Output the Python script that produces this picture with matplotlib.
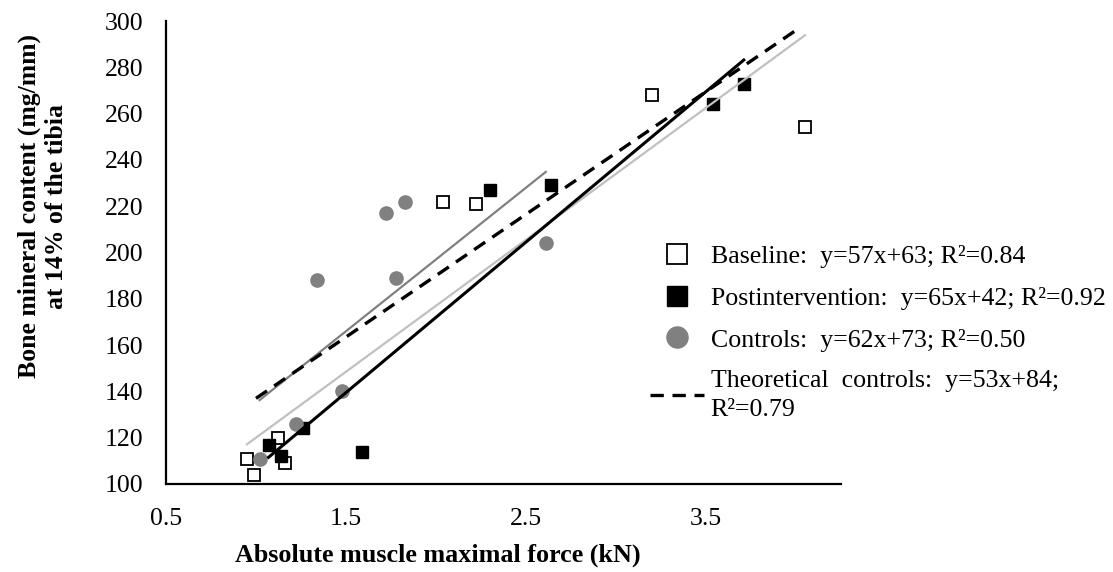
import numpy as np
import matplotlib
matplotlib.use("Agg")
import matplotlib.pyplot as plt

plt.rcParams["font.family"] = ["Liberation Serif", "DejaVu Serif"]

# Data
baseline_x = [0.95, 0.99, 1.12, 1.16, 2.04, 2.22, 3.20, 4.05]
baseline_y = [111, 104, 120, 109, 222, 221, 268, 254]

post_x = [1.07, 1.14, 1.26, 1.59, 2.30, 2.64, 3.54, 3.71]
post_y = [117, 112, 124, 114, 227, 229, 264, 273]

controls_x = [1.02, 1.22, 1.48, 1.34, 1.72, 1.83, 1.78, 2.61]
controls_y = [111, 126, 140, 188, 217, 222, 189, 204]

# trend lines: slope, intercept, x range
baseline_fit = (57, 63, 0.95, 4.05)
post_fit = (65, 42, 1.07, 3.71)
controls_fit = (62, 73, 1.02, 2.61)
theoretical_fit = (53, 84, 1.0, 4.0)

labels = [
    "Baseline:  y=57x+63; R\u00b2=0.84",
    "Postintervention:  y=65x+42; R\u00b2=0.92",
    "Controls:  y=62x+73; R\u00b2=0.50",
    "Theoretical  controls:  y=53x+84;\nR\u00b2=0.79",
]

W, H = 1113, 572
fig = plt.figure(figsize=(W / 100, H / 100), dpi=100)
ax = fig.add_axes([166 / W, (H - 484) / H, (841 - 166) / W, (484 - 21) / H])


def fit_line(fit, **kw):
    m, b, x0, x1 = fit
    xs = np.array([x0, x1])
    return ax.plot(xs, m * xs + b, **kw)[0]


# markers
ax.plot(baseline_x, baseline_y, "s", ms=8.8, mfc="white", mec="black", mew=1.3,
        ls="none", zorder=2, label=labels[0])
ax.plot(post_x, post_y, "s", ms=8.8, mfc="black", mec="black",
        ls="none", zorder=2, label=labels[1])
ax.plot(controls_x, controls_y, "o", ms=9.5, mfc="#808080", mec="#808080",
        ls="none", zorder=2, label=labels[2])

# trend lines
fit_line(baseline_fit, color="#c0c0c0", lw=1.6, zorder=3)
fit_line(post_fit, color="black", lw=2.2, zorder=3)
fit_line(controls_fit, color="#808080", lw=1.6, zorder=3)
fit_line(theoretical_fit, color="black", lw=2.4, dashes=(4, 2.6), zorder=3,
         label=labels[3])

ax.set_xlim(0.5, 4.25)
ax.set_ylim(100, 300)
ax.set_xticks([0.5, 1.5, 2.5, 3.5])
ax.set_xticklabels(["0.5", "1.5", "2.5", "3.5"])
ax.set_yticks(range(100, 301, 20))
ax.tick_params(length=0, labelsize=18.5)
ax.tick_params(axis="y", pad=16)
ax.tick_params(axis="x", pad=17)
for s in ["top", "right"]:
    ax.spines[s].set_visible(False)
for s in ["left", "bottom"]:
    ax.spines[s].set_linewidth(1.6)
ax.patch.set_visible(False)

fig.text(43 / W, 1 - 206 / H, "Bone mineral content (mg/mm)\nat 14% of the tibia",
         rotation=90, ha="center", va="center", fontsize=18.5, fontweight="bold",
         linespacing=1.2)
fig.text(438 / W, 1 - 555 / H, "Absolute muscle maximal force (kN)",
         ha="center", va="center", fontsize=18.8, fontweight="bold")

leg = ax.legend(loc="center left", bbox_to_anchor=(650 / W, 1 - 333 / H),
                bbox_transform=fig.transFigure, frameon=False, fontsize=18.6,
                markerscale=1.6, handlelength=2.1, handletextpad=0.25,
                labelspacing=0.72, borderaxespad=0, borderpad=0)
leg.get_texts()[3].set_linespacing(1.4)

fig.savefig("out.png", dpi=100)
